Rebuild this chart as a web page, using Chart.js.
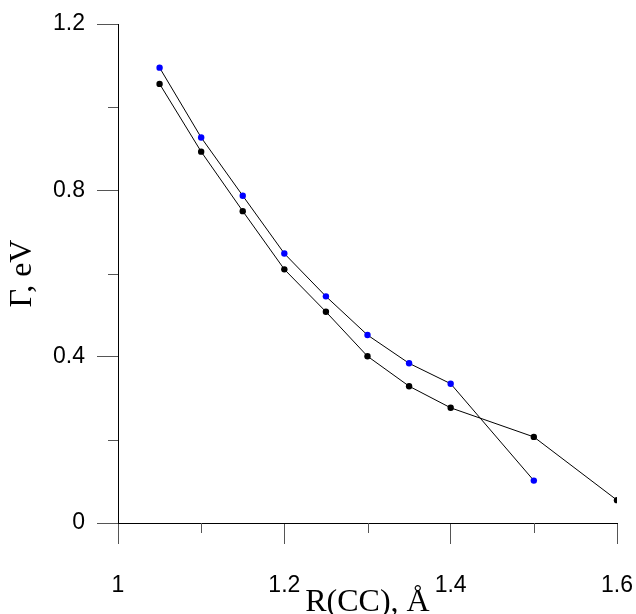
<!DOCTYPE html>
<html>
<head>
<meta charset="utf-8">
<script src="https://cdn.jsdelivr.net/npm/chart.js@4/dist/chart.umd.min.js"></script>
<style>
  html, body { margin: 0; padding: 0; background: #fff; }
  canvas { display: block; }
</style>
</head>
<body>
<canvas id="gammaChart" width="636" height="614"></canvas>
<script>
// R(CC) in Angstrom and width Gamma in eV
const rBlue = [1.05, 1.10, 1.15, 1.20, 1.25, 1.30, 1.35, 1.40, 1.50];
const gammaBlue = [1.095, 0.927, 0.787, 0.648, 0.545, 0.452, 0.384, 0.335, 0.102];

const rBlack = [1.05, 1.10, 1.15, 1.20, 1.25, 1.30, 1.35, 1.40, 1.50, 1.60];
const gammaBlack = [1.056, 0.893, 0.750, 0.610, 0.508, 0.401, 0.329, 0.277, 0.207, 0.055];

const xTickValues = [1, 1.1, 1.2, 1.3, 1.4, 1.5, 1.6];
const yTickValues = [0, 0.2, 0.4, 0.6, 0.8, 1.0, 1.2];

const toPoints = (xs, ys) => xs.map((x, i) => ({ x: x, y: ys[i] }));

const isMajorX = v => Math.round(v * 10) % 2 === 0;
const isMajorY = v => Math.round(v * 10) % 4 === 0;

// short minor ticks (Chart.js has only one tick length)
const minorTicks = {
    id: 'minorTicks',
    afterDraw(chart) {
        const ctx = chart.ctx;
        const xs = chart.scales.x;
        const ys = chart.scales.y;
        const bottom = chart.chartArea.bottom;
        const left = chart.chartArea.left;
        ctx.save();
        ctx.strokeStyle = '#555';
        ctx.lineWidth = 1;
        ctx.beginPath();
        xTickValues.filter(v => !isMajorX(v)).forEach(v => {
            const px = Math.round(xs.getPixelForValue(v)) + 0.5;
            ctx.moveTo(px, bottom);
            ctx.lineTo(px, bottom + 10);
        });
        yTickValues.filter(v => !isMajorY(v)).forEach(v => {
            const py = Math.round(ys.getPixelForValue(v)) + 0.5;
            ctx.moveTo(left, py);
            ctx.lineTo(left - 10, py);
        });
        ctx.stroke();
        ctx.restore();
    }
};

const tickFont = { family: '"Liberation Sans", Arial, sans-serif', size: 23 };
const titleFont = { family: '"Liberation Serif", "Times New Roman", serif', size: 32, lineHeight: 1 };

new Chart(document.getElementById('gammaChart'), {
    type: 'line',
    data: {
        datasets: [
            {
                data: toPoints(rBlack, gammaBlack),
                borderColor: '#000',
                borderWidth: 1,
                pointBackgroundColor: '#000',
                pointBorderWidth: 0,
                pointRadius: 3.2,
                tension: 0
            },
            {
                data: toPoints(rBlue, gammaBlue),
                borderColor: '#000',
                borderWidth: 1,
                pointBackgroundColor: '#0000ff',
                pointBorderWidth: 0,
                pointRadius: 3.2,
                tension: 0
            }
        ]
    },
    options: {
        responsive: false,
        animation: false,
        layout: { padding: { top: 24, right: 19, bottom: 0, left: 0 } },
        plugins: {
            legend: { display: false },
            tooltip: { enabled: false }
        },
        scales: {
            x: {
                type: 'linear',
                min: 1,
                max: 1.6,
                afterFit: scale => {
                    scale.height = 91;
                    scale.paddingLeft = 0;
                    scale.paddingRight = 0;
                },
                afterBuildTicks: scale => { scale.ticks = xTickValues.map(v => ({ value: v })); },
                border: { color: '#000', width: 1 },
                grid: {
                    drawOnChartArea: false,
                    tickLength: 21,
                    tickColor: c => isMajorX(c.tick.value) ? '#555' : 'rgba(0,0,0,0)'
                },
                ticks: {
                    autoSkip: false,
                    maxRotation: 0,
                    padding: 28,
                    color: '#000',
                    font: tickFont,
                    callback: v => isMajorX(v) ? String(Math.round(v * 10) / 10) : ''
                },
                title: {
                    display: true,
                    text: 'R(CC), Å',
                    color: '#000',
                    font: titleFont,
                    padding: { top: 0, bottom: -5 }
                }
            },
            y: {
                type: 'linear',
                min: 0,
                max: 1.2,
                afterFit: scale => {
                    scale.width = 118;
                    scale.paddingTop = 0;
                    scale.paddingBottom = 0;
                },
                afterBuildTicks: scale => { scale.ticks = yTickValues.map(v => ({ value: v })); },
                border: { color: '#000', width: 1 },
                grid: {
                    drawOnChartArea: false,
                    tickLength: 21,
                    tickColor: c => isMajorY(c.tick.value) ? '#555' : 'rgba(0,0,0,0)'
                },
                ticks: {
                    autoSkip: false,
                    padding: 12,
                    color: '#000',
                    font: tickFont,
                    callback: v => isMajorY(v) ? String(Math.round(v * 10) / 10) : ''
                },
                title: {
                    display: true,
                    text: 'Γ, eV',
                    color: '#000',
                    font: titleFont,
                    padding: { top: 7, bottom: 0 }
                }
            }
        }
    },
    plugins: [minorTicks]
});
</script>
</body>
</html>
